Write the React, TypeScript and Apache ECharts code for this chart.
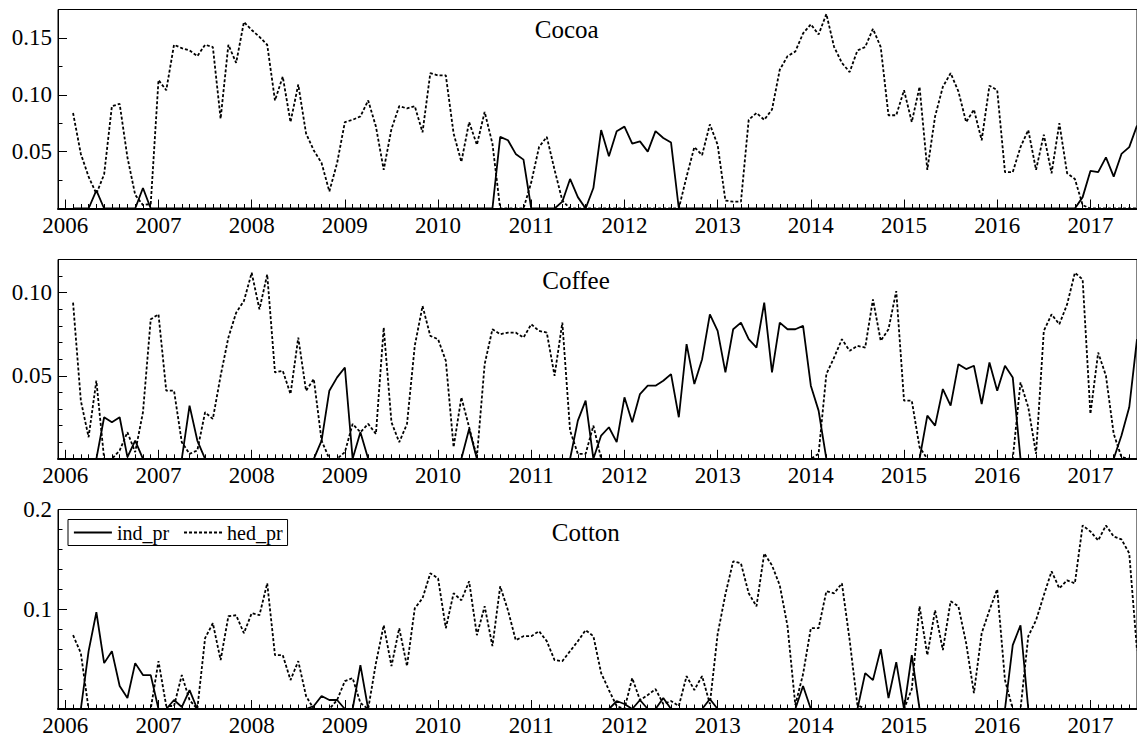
import React, { useEffect, useRef } from "react";
import * as echarts from "echarts";

// Monthly observations, Feb 2006 .. Jul 2017 (138 months). Month index 0 = Jan 2006.
const yearLabels = [2006, 2007, 2008, 2009, 2010, 2011, 2012, 2013, 2014, 2015, 2016, 2017];

const cocoaInd = [
  0, 0, 0, 0.016, 0, 0, 0, 0, 0, 0.018, 0,
  0, 0, 0, 0, 0, 0, 0, 0, 0, 0, 0, 0,
  0, 0, 0, 0, 0, 0, 0, 0, 0, 0, 0, 0,
  0, 0, 0, 0, 0, 0, 0, 0, 0, 0, 0, 0,
  0, 0, 0, 0, 0, 0, 0, 0, 0.063, 0.06, 0.048, 0.043,
  0, 0, 0, 0, 0.006, 0.026, 0.01, 0, 0.018, 0.069, 0.046, 0.068,
  0.072, 0.057, 0.059, 0.05, 0.068, 0.062, 0.058, 0, 0, 0, 0, 0,
  0, 0, 0, 0, 0, 0, 0, 0, 0, 0, 0, 0,
  0, 0, 0, 0, 0, 0, 0, 0, 0, 0, 0, 0,
  0, 0, 0, 0, 0, 0, 0, 0, 0, 0, 0, 0,
  0, 0, 0, 0, 0, 0, 0, 0, 0, 0, 0, 0.01,
  0.033, 0.032, 0.045, 0.028, 0.048, 0.054, 0.073,
];
const cocoaHed = [
  0.084, 0.048, 0.028, 0.013, 0.03, 0.09, 0.092, 0.045, 0.012, 0.003, 0.004,
  0.113, 0.104, 0.144, 0.141, 0.139, 0.134, 0.144, 0.142, 0.079, 0.144, 0.128, 0.164,
  0.157, 0.151, 0.144, 0.095, 0.116, 0.076, 0.109, 0.066, 0.051, 0.04, 0.015, 0.04,
  0.076, 0.078, 0.081, 0.095, 0.072, 0.034, 0.07, 0.09, 0.088, 0.09, 0.067, 0.119,
  0.117, 0.117, 0.066, 0.041, 0.076, 0.056, 0.085, 0.057, 0, 0, 0, 0,
  0.023, 0.054, 0.063, 0.034, 0.007, 0, 0, 0, 0, 0, 0, 0,
  0, 0, 0, 0, 0, 0, 0, 0, 0.028, 0.054, 0.047, 0.074,
  0.056, 0.007, 0.006, 0.006, 0.078, 0.084, 0.078, 0.087, 0.122, 0.134, 0.138, 0.154,
  0.162, 0.153, 0.171, 0.142, 0.128, 0.12, 0.139, 0.142, 0.158, 0.142, 0.082, 0.082,
  0.104, 0.076, 0.107, 0.034, 0.081, 0.107, 0.119, 0.103, 0.076, 0.087, 0.06, 0.108,
  0.104, 0.032, 0.032, 0.054, 0.069, 0.034, 0.065, 0.031, 0.075, 0.031, 0.026, 0.003,
  0, 0, 0, 0, 0, 0, 0,
];

const coffeeInd = [
  0, 0, 0, 0, 0.025, 0.022, 0.025, 0.001, 0.011, 0, 0,
  0, 0, 0, 0, 0.032, 0.011, 0, 0, 0, 0, 0, 0,
  0, 0, 0, 0, 0, 0, 0, 0, 0, 0.011, 0.041, 0.049,
  0.055, 0, 0.016, 0, 0, 0, 0, 0, 0, 0, 0, 0,
  0, 0, 0, 0, 0.018, 0, 0, 0, 0, 0, 0, 0,
  0, 0, 0, 0, 0, 0, 0.023, 0.035, 0, 0.014, 0.019, 0.01,
  0.037, 0.022, 0.039, 0.044, 0.044, 0.047, 0.051, 0.025, 0.069, 0.045, 0.06, 0.087,
  0.077, 0.052, 0.078, 0.082, 0.072, 0.067, 0.094, 0.052, 0.082, 0.078, 0.078, 0.08,
  0.044, 0.029, 0, 0, 0, 0, 0, 0, 0, 0, 0, 0,
  0, 0, 0, 0.026, 0.02, 0.042, 0.032, 0.057, 0.054, 0.056, 0.033, 0.058,
  0.041, 0.056, 0.049, 0, 0, 0, 0, 0, 0, 0, 0, 0,
  0, 0, 0, 0, 0.014, 0.031, 0.072,
];
const coffeeHed = [
  0.094, 0.035, 0.013, 0.047, 0, 0, 0.005, 0.016, 0.004, 0.028, 0.084,
  0.087, 0.041, 0.041, 0.01, 0.003, 0.005, 0.028, 0.024, 0.05, 0.073, 0.088, 0.095,
  0.112, 0.09, 0.111, 0.052, 0.053, 0.039, 0.073, 0.041, 0.048, 0.011, 0, 0,
  0.004, 0.021, 0.016, 0.021, 0.015, 0.079, 0.022, 0.01, 0.021, 0.068, 0.092, 0.074,
  0.072, 0.059, 0.007, 0.037, 0.019, 0.001, 0.057, 0.078, 0.075, 0.076, 0.076, 0.073,
  0.081, 0.077, 0.076, 0.05, 0.082, 0.017, 0.003, 0.003, 0.02, 0, 0, 0,
  0, 0, 0, 0, 0, 0, 0, 0, 0, 0, 0, 0,
  0, 0, 0, 0, 0, 0, 0, 0, 0, 0, 0, 0,
  0, 0.003, 0.051, 0.061, 0.072, 0.065, 0.068, 0.067, 0.096, 0.071, 0.078, 0.101,
  0.035, 0.035, 0.007, 0, 0, 0, 0, 0, 0, 0, 0, 0,
  0, 0, 0, 0.046, 0.031, 0.003, 0.077, 0.087, 0.081, 0.093, 0.112, 0.108,
  0.027, 0.064, 0.05, 0.015, 0.001, 0, 0,
];

const cottonInd = [
  0, 0, 0.058, 0.097, 0.046, 0.058, 0.023, 0.011, 0.046, 0.034, 0.034,
  0, 0, 0.009, 0.002, 0.019, 0, 0, 0, 0, 0, 0, 0,
  0, 0, 0, 0, 0, 0, 0, 0, 0.003, 0.013, 0.009, 0.009,
  0, 0, 0.044, 0, 0, 0, 0, 0, 0, 0, 0, 0,
  0, 0, 0, 0, 0, 0, 0, 0, 0, 0, 0, 0,
  0, 0, 0, 0, 0, 0, 0, 0, 0, 0, 0, 0.008,
  0.005, 0, 0.009, 0, 0, 0.011, 0, 0, 0, 0, 0, 0.01,
  0, 0, 0, 0, 0, 0, 0, 0, 0, 0, 0, 0.023,
  0, 0, 0, 0, 0, 0, 0, 0.036, 0.029, 0.06, 0.011, 0.047,
  0, 0.054, 0, 0, 0, 0, 0, 0, 0, 0, 0, 0,
  0, 0, 0.064, 0.084, 0, 0, 0, 0, 0, 0, 0, 0,
  0, 0, 0, 0, 0, 0, 0,
];
const cottonHed = [
  0.074, 0.056, 0, 0, 0, 0, 0, 0, 0, 0, 0,
  0.048, 0.003, 0.003, 0.034, 0.009, 0, 0.071, 0.086, 0.049, 0.093, 0.094, 0.076,
  0.096, 0.094, 0.126, 0.054, 0.054, 0.029, 0.048, 0.013, 0, 0, 0, 0.009,
  0.028, 0.031, 0.006, 0, 0.046, 0.084, 0.043, 0.081, 0.043, 0.101, 0.111, 0.136,
  0.131, 0.081, 0.116, 0.109, 0.128, 0.074, 0.103, 0.063, 0.123, 0.099, 0.069, 0.073,
  0.073, 0.078, 0.068, 0.049, 0.048, 0.058, 0.068, 0.079, 0.073, 0.036, 0.019, 0.003,
  0, 0.031, 0.009, 0.014, 0.02, 0.005, 0.008, 0.003, 0.033, 0.019, 0.033, 0.005,
  0.075, 0.115, 0.148, 0.146, 0.116, 0.103, 0.156, 0.144, 0.124, 0.083, 0.004, 0.035,
  0.081, 0.081, 0.118, 0.116, 0.126, 0.069, 0.004, 0, 0, 0, 0, 0,
  0, 0.02, 0.103, 0.054, 0.099, 0.059, 0.108, 0.103, 0.066, 0.016, 0.076, 0.099,
  0.12, 0.029, 0, 0, 0.073, 0.089, 0.114, 0.138, 0.121, 0.129, 0.126, 0.184,
  0.178, 0.169, 0.184, 0.173, 0.17, 0.156, 0.059,
];

const panelTitles = ["Cocoa", "Coffee", "Cotton"];
const panelInd = [cocoaInd, coffeeInd, cottonInd];
const panelHed = [cocoaHed, coffeeHed, cottonHed];
const panelYMax = [0.175, 0.12, 0.2];
const panelMajorTicks = [
  [0.05, 0.1, 0.15],
  [0.05, 0.1],
  [0.1, 0.2],
];
const panelMinorTicks = [
  [0.025, 0.075, 0.125],
  [0.01, 0.02, 0.03, 0.04, 0.06, 0.07, 0.08, 0.09, 0.11],
  [0.02, 0.04, 0.06, 0.08, 0.12, 0.14, 0.16, 0.18],
];
const panelDecimals = [2, 2, 1];

const FONT = "'Liberation Serif', 'Times New Roman', serif";
const X_MIN = -0.94;
const X_MAX = 138;
const GRID_LEFT = 58;
const GRID_WIDTH = 1080;
const GRID_TOPS = [9.5, 259.5, 509.5];
const GRID_HEIGHTS = [199, 199.3, 199.5];
const TITLE_POS = [
  [566.7, 29.5],
  [576, 280.7],
  [585.8, 532],
];

const yearTicks = yearLabels.map((_, k) => k * 12);
const monthTicks: number[] = [];
for (let m = 0; m <= X_MAX; m++) monthTicks.push(m);

function toPairs(values: number[]) {
  return values.map((v, k) => [k + 1, v]);
}

function buildOption() {
  const grid: any[] = [];
  const xAxis: any[] = [];
  const yAxis: any[] = [];
  const series: any[] = [];
  const graphic: any[] = [];

  for (let p = 0; p < 3; p++) {
    grid.push({
      left: GRID_LEFT,
      width: GRID_WIDTH,
      top: GRID_TOPS[p],
      height: GRID_HEIGHTS[p],
      show: true,
      borderColor: "#000",
      borderWidth: 1,
      backgroundColor: "transparent",
    });
    xAxis.push({
      gridIndex: p,
      type: "value",
      min: X_MIN,
      max: X_MAX,
      position: "bottom",
      axisLine: { show: true, onZero: false, lineStyle: { color: "#000", width: 2 } },
      axisTick: { show: true, inside: true, length: 4.5, customValues: monthTicks, lineStyle: { color: "#000", width: 1 } },
      axisLabel: { show: false },
      splitLine: { show: false },
    });
    xAxis.push({
      gridIndex: p,
      type: "value",
      min: X_MIN,
      max: X_MAX,
      position: "bottom",
      axisLine: { show: false, onZero: false },
      axisTick: { show: true, inside: true, length: 9, customValues: yearTicks, lineStyle: { color: "#000", width: 1 } },
      axisLabel: {
        show: true,
        customValues: yearTicks,
        formatter: (v: number) => String(yearLabels[Math.round(v / 12)]),
        fontSize: 23,
        fontFamily: FONT,
        color: "#000",
        margin: 5,
      },
      splitLine: { show: false },
    });
    const dec = panelDecimals[p];
    yAxis.push({
      gridIndex: p,
      type: "value",
      min: 0,
      max: panelYMax[p],
      position: "left",
      axisLine: { show: true, onZero: false, lineStyle: { color: "#000", width: 1 } },
      axisTick: { show: true, inside: true, length: 9, customValues: panelMajorTicks[p], lineStyle: { color: "#000", width: 1 } },
      axisLabel: {
        show: true,
        customValues: panelMajorTicks[p],
        formatter: (v: number) => v.toFixed(dec),
        fontSize: 23,
        fontFamily: FONT,
        color: "#000",
        margin: 6,
      },
      splitLine: { show: false },
    });
    yAxis.push({
      gridIndex: p,
      type: "value",
      min: 0,
      max: panelYMax[p],
      position: "left",
      axisLine: { show: false, onZero: false },
      axisTick: { show: true, inside: true, length: 4.5, customValues: panelMinorTicks[p], lineStyle: { color: "#000", width: 1 } },
      axisLabel: { show: false },
      splitLine: { show: false },
    });
    series.push({
      name: "ind_pr",
      type: "line",
      xAxisIndex: 2 * p,
      yAxisIndex: 2 * p,
      data: toPairs(panelInd[p]),
      symbol: "none",
      lineStyle: { color: "#000", width: 1.8, type: "solid" },
      itemStyle: { color: "#000" },
      z: 3,
    });
    series.push({
      name: "hed_pr",
      type: "line",
      xAxisIndex: 2 * p,
      yAxisIndex: 2 * p,
      data: toPairs(panelHed[p]),
      symbol: "none",
      lineStyle: { color: "#000", width: 1.8, type: [3, 2] },
      itemStyle: { color: "#000" },
      z: 2,
    });
    graphic.push({
      type: "text",
      x: TITLE_POS[p][0],
      y: TITLE_POS[p][1],
      style: {
        text: panelTitles[p],
        font: `25px ${FONT}`,
        fill: "#000",
        textAlign: "center",
        textVerticalAlign: "middle",
      },
      z: 10,
    });
  }

  return {
    animation: false,
    backgroundColor: "#fff",
    grid,
    xAxis,
    yAxis,
    series,
    graphic,
    legend: {
      show: true,
      data: ["ind_pr", "hed_pr"],
      left: 68,
      top: 519.5,
      orient: "horizontal",
      itemWidth: 38,
      itemHeight: 14,
      itemGap: 14,
      selectedMode: false,
      borderColor: "#000",
      borderWidth: 1,
      padding: [3, 5, 3, 5],
      backgroundColor: "#fff",
      itemStyle: { opacity: 0, borderWidth: 0 },
      lineStyle: { width: 1.8 },
      textStyle: { fontSize: 20, fontFamily: FONT, color: "#000", padding: [0, 0, 0, 0] },
    },
  };
}

export default function App() {
  const ref = useRef<HTMLDivElement>(null);
  useEffect(() => {
    if (!ref.current) return;
    const chart = echarts.init(ref.current, null, { renderer: "svg" });
    chart.setOption(buildOption() as any);
    return () => chart.dispose();
  }, []);
  return (
    <div
      ref={ref}
      style={{ position: "absolute", left: 0, top: 0, width: 1137, height: 742, background: "#fff" }}
    />
  );
}
